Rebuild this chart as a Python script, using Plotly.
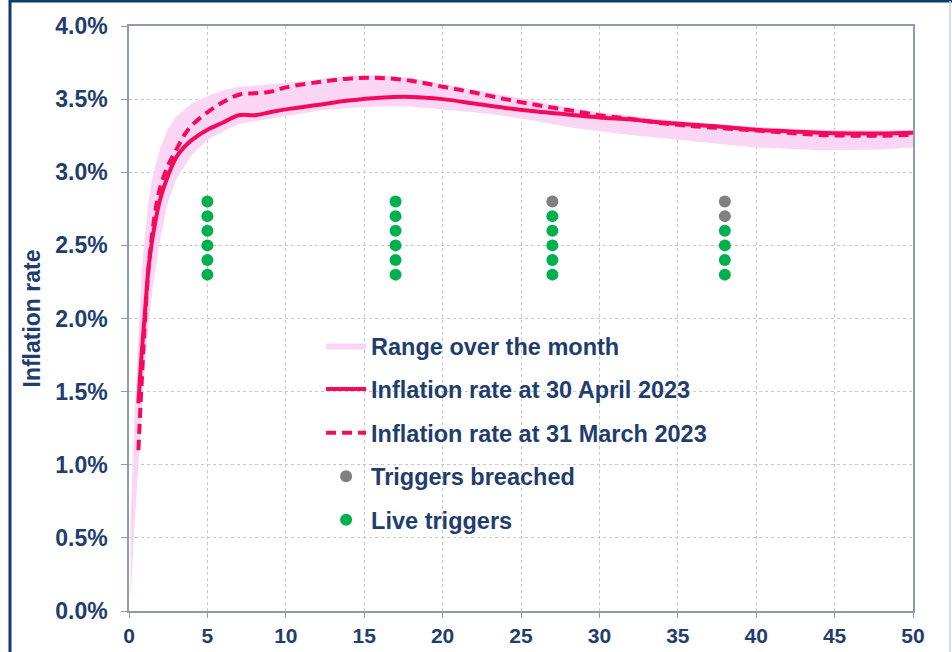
import plotly.graph_objects as go

# ---------------- data ----------------
line_x = [0.6, 0.8, 1.0, 1.25, 1.5, 1.75, 2.0, 2.5, 3.0, 3.5, 4.0, 5.0, 6.0, 7.0, 8.0, 9.0, 10,
          12, 14, 16, 18, 20, 22, 24, 26, 28, 30, 32, 34, 36, 38, 40, 42, 44, 46, 48, 50]
april_rate = [1.42, 1.75, 2.02, 2.35, 2.55, 2.70, 2.82, 2.98, 3.10, 3.17, 3.22, 3.29, 3.34, 3.39,
              3.39, 3.41, 3.43, 3.46, 3.49, 3.51, 3.515, 3.50, 3.47, 3.44, 3.415, 3.395, 3.375,
              3.36, 3.34, 3.325, 3.31, 3.29, 3.28, 3.27, 3.265, 3.265, 3.27]
march_rate = [1.10, 1.55, 1.95, 2.35, 2.60, 2.78, 2.90, 3.05, 3.15, 3.25, 3.32, 3.41, 3.48, 3.53,
              3.54, 3.55, 3.58, 3.615, 3.64, 3.645, 3.625, 3.585, 3.545, 3.50, 3.46, 3.425, 3.39,
              3.365, 3.335, 3.315, 3.30, 3.285, 3.27, 3.255, 3.25, 3.25, 3.255]

band_x = [0.1, 0.3, 0.6, 0.8, 1.0, 1.25, 1.5, 2, 2.5, 3, 4, 5, 6, 7, 8, 10, 12, 14, 16, 18, 20,
          22, 24, 26, 28, 30, 32, 34, 36, 38, 40, 42, 44, 46, 48, 50]
band_upper = [0.6, 1.2, 1.9, 2.3, 2.55, 2.8, 2.97, 3.17, 3.3, 3.38, 3.47, 3.52, 3.56, 3.585, 3.59,
              3.61, 3.635, 3.66, 3.665, 3.645, 3.605, 3.565, 3.52, 3.48, 3.445, 3.41, 3.385,
              3.36, 3.34, 3.325, 3.31, 3.30, 3.29, 3.285, 3.285, 3.29]
band_lower = [0.05, 0.5, 1.0, 1.35, 1.65, 1.95, 2.2, 2.55, 2.8, 2.95, 3.12, 3.22, 3.28, 3.33, 3.35,
              3.385, 3.42, 3.44, 3.45, 3.45, 3.43, 3.41, 3.385, 3.35, 3.31, 3.28, 3.255, 3.235,
              3.21, 3.19, 3.17, 3.16, 3.15, 3.15, 3.155, 3.17]

trigger_x = [5, 5, 5, 5, 5, 5, 17, 17, 17, 17, 17, 17, 27, 27, 27, 27, 27, 27, 38, 38, 38, 38, 38, 38]
trigger_y = [2.3, 2.4, 2.5, 2.6, 2.7, 2.8] * 4
trigger_breached = [False] * 12 + [False] * 5 + [True] + [False] * 4 + [True, True]

x_ticks = [0, 5, 10, 15, 20, 25, 30, 35, 40, 45, 50]
y_ticks = [0.0, 0.5, 1.0, 1.5, 2.0, 2.5, 3.0, 3.5, 4.0]

# ---------------- styles ----------------
NAVY = "#1F3D6E"
PINK_LINE = "#F50A5B"
BAND_FILL = "rgb(250,214,244)"
GREEN = "#00B050"
GREY = "#808080"
AXIS = "#8C9BB0"
FONT = "Liberation Sans, Arial, sans-serif"

fig = go.Figure()

fig.add_trace(go.Scatter(
    x=band_x + band_x[::-1], y=band_upper + band_lower[::-1],
    fill="toself", fillcolor=BAND_FILL, mode="lines", line=dict(width=0, color=BAND_FILL),
    name="Range over the month", legendrank=1, hoverinfo="skip"))

fig.add_trace(go.Scatter(
    x=line_x, y=april_rate, mode="lines", line=dict(color=PINK_LINE, width=4, shape="spline"),
    name="Inflation rate at 30 April 2023", legendrank=2))

fig.add_trace(go.Scatter(
    x=line_x, y=march_rate, mode="lines",
    line=dict(color=PINK_LINE, width=4, dash="10px,6px", shape="spline"),
    name="Inflation rate at 31 March 2023", legendrank=3))

bx = [x for x, b in zip(trigger_x, trigger_breached) if b]
by = [y for y, b in zip(trigger_y, trigger_breached) if b]
lx = [x for x, b in zip(trigger_x, trigger_breached) if not b]
ly = [y for y, b in zip(trigger_y, trigger_breached) if not b]

fig.add_trace(go.Scatter(
    x=bx, y=by, mode="markers", marker=dict(color=GREY, size=12),
    name="Triggers breached", legendrank=4))
fig.add_trace(go.Scatter(
    x=lx, y=ly, mode="markers", marker=dict(color=GREEN, size=12),
    name="Live triggers", legendrank=5))

for i, tr in enumerate(fig.data):
    tr.legendgroup = f"g{i}"

fig.update_layout(
    width=952, height=652,
    margin=dict(l=129, r=39, t=26, b=41),
    paper_bgcolor="white", plot_bgcolor="white",
    font=dict(family=FONT, color=NAVY, size=22),
    showlegend=True,
    legend=dict(
        x=0.245, y=0.491, xanchor="left", yanchor="top",
        bgcolor="rgba(0,0,0,0)", itemwidth=40, tracegroupgap=10,
        font=dict(family=FONT, size=23.5, color=NAVY, weight="bold"),
        traceorder="grouped"),
    xaxis=dict(
        range=[0, 50], tickvals=x_ticks, ticktext=[str(v) for v in x_ticks],
        showgrid=True, gridcolor="#C8C8C8", griddash="dot", gridwidth=1,
        showline=True, linecolor=AXIS, linewidth=1.5, mirror=True,
        ticks="outside", ticklen=5, tickcolor=AXIS, ticklabelstandoff=0,
        tickfont=dict(family=FONT, size=21, color=NAVY, weight="bold"),
        zeroline=False, automargin=False),
    yaxis=dict(
        range=[0, 4.0], tickvals=y_ticks, ticktext=[f"{v:.1f}%" for v in y_ticks],
        showgrid=True, gridcolor="#C8C8C8", griddash="dot", gridwidth=1,
        showline=True, linecolor=AXIS, linewidth=1.5, mirror=True,
        ticks="outside", ticklen=6, tickcolor=AXIS, ticklabelstandoff=9,
        tickfont=dict(family=FONT, size=23, color=NAVY, weight="bold"),
        title=dict(text="Inflation rate", standoff=8,
                   font=dict(family=FONT, size=23, color=NAVY, weight="bold")),
        zeroline=False, automargin=False),
)

# image frame (outer border of the original graphic)
fig.add_shape(type="line", xref="paper", yref="paper",
              x0=(10 - 129) / 784, x1=(10 - 129) / 784, y0=(611 - 0) / 585, y1=(611 - 660) / 585,
              line=dict(color="#0E3B6E", width=3))
fig.add_shape(type="line", xref="paper", yref="paper",
              x0=(10 - 129) / 784, x1=(960 - 129) / 784, y0=(611 - 1) / 585, y1=(611 - 1) / 585,
              line=dict(color="#0E3B6E", width=3))
fig.add_shape(type="line", xref="paper", yref="paper",
              x0=(950 - 129) / 784, x1=(950 - 129) / 784, y0=(611 - 1) / 585, y1=(611 - 660) / 585,
              line=dict(color="#C5CFDC", width=1.5))

fig.write_html("out.html", config={"displayModeBar": False},
               post_script="document.body.style.margin='0';document.body.style.overflow='hidden';")
